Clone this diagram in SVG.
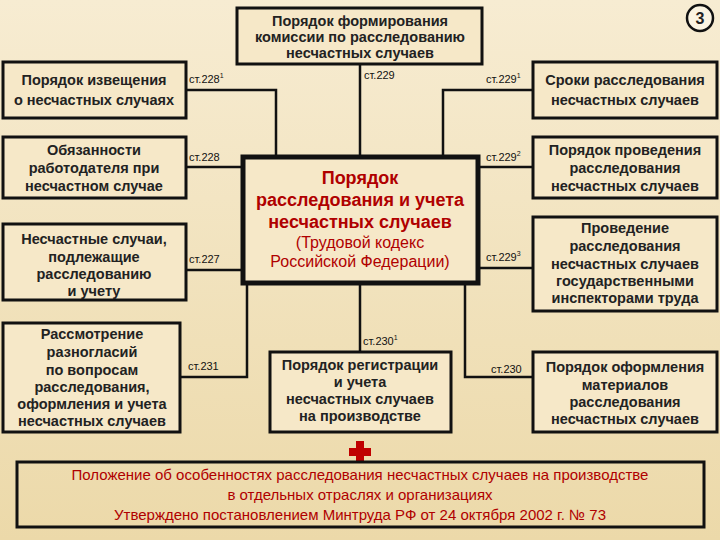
<svg xmlns="http://www.w3.org/2000/svg" width="720" height="540" viewBox="0 0 720 540">
<defs>
<linearGradient id="bg" x1="0" y1="0" x2="0" y2="1"><stop offset="0" stop-color="#f7ecd2"/><stop offset="1" stop-color="#ecd9a9"/></linearGradient>
<style>
.b{fill:#f6e8c8;stroke:#111;stroke-width:3}
.t{font-family:"Liberation Sans",Arial,sans-serif;font-weight:bold;font-size:14.5px;fill:#222;text-anchor:middle}
.m{font-family:"Liberation Sans",Arial,sans-serif;font-weight:bold;fill:#b00000;text-anchor:middle}
.l{font-family:"Liberation Sans",Arial,sans-serif;font-size:11px;fill:#111}
.c{fill:none;stroke:#111;stroke-width:2.5}
.r{font-family:"Liberation Sans",Arial,sans-serif;font-size:15px;fill:#b00000;text-anchor:middle}
</style>
</defs>
<rect width="720" height="540" fill="url(#bg)"/>
<g id="connectors">
<path class="c" d="M186 90H276V155"/>
<path class="c" d="M186 167H241"/>
<path class="c" d="M186 270H241"/>
<path class="c" d="M180 377H247V285"/>
<path class="c" d="M360 64V155"/>
<path class="c" d="M443 155V90H533"/>
<path class="c" d="M480 167H533"/>
<path class="c" d="M480 268H533"/>
<path class="c" d="M465 285V377H533"/>
<path class="c" d="M360 285V352"/>
<text class="l" x="189" y="83">ст.228<tspan font-size="7" dy="-5">1</tspan></text>
<text class="l" x="189" y="161">ст.228</text>
<text class="l" x="189" y="263">ст.227</text>
<text class="l" x="188" y="370">ст.231</text>
<text class="l" x="364" y="79">ст.229</text>
<text class="l" x="486" y="83">ст.229<tspan font-size="7" dy="-5">1</tspan></text>
<text class="l" x="486" y="161">ст.229<tspan font-size="7" dy="-5">2</tspan></text>
<text class="l" x="486" y="261">ст.229<tspan font-size="7" dy="-5">3</tspan></text>
<text class="l" x="491" y="373">ст.230</text>
<text class="l" x="363" y="345">ст.230<tspan font-size="7" dy="-5">1</tspan></text>
</g>
<g id="num"><circle cx="700" cy="18" r="13" fill="#fbf4e2" stroke="#111" stroke-width="2.5"/><text class="t" x="700" y="24" style="font-size:16px">3</text></g>
<g id="top"><rect class="b" x="237" y="8" width="245" height="56"/>
<text class="t" x="360" y="26">Порядок формирования</text><text class="t" x="360" y="42">комиссии по расследованию</text><text class="t" x="360" y="58">несчастных случаев</text></g>
<g id="l1"><rect class="b" x="3" y="62" width="183" height="56"/>
<text class="t" x="94" y="85">Порядок извещения</text><text class="t" x="94" y="105">о несчастных случаях</text></g>
<g id="l2"><rect class="b" x="3" y="137" width="183" height="61"/>
<text class="t" x="94" y="155">Обязанности</text><text class="t" x="94" y="173">работодателя при</text><text class="t" x="94" y="191">несчастном случае</text></g>
<g id="l3"><rect class="b" x="3" y="224" width="183" height="76"/>
<text class="t" x="94" y="244">Несчастные случаи,</text><text class="t" x="94" y="262">подлежащие</text><text class="t" x="94" y="279">расследованию</text><text class="t" x="94" y="296">и учету</text></g>
<g id="l4"><rect class="b" x="3" y="323" width="177" height="109"/>
<text class="t" x="92" y="339">Рассмотрение</text><text class="t" x="92" y="357">разногласий</text><text class="t" x="92" y="375">по вопросам</text><text class="t" x="92" y="392">расследования,</text><text class="t" x="92" y="409">оформления и учета</text><text class="t" x="92" y="426">несчастных случаев</text></g>
<g id="center"><rect x="243" y="157" width="235" height="126" fill="#f6e8c8" stroke="#111" stroke-width="5"/>
<text class="m" x="360" y="184" style="font-size:18px">Порядок</text>
<text class="m" x="360" y="206" style="font-size:18px">расследования и учета</text>
<text class="m" x="360" y="228" style="font-size:18px">несчастных случаев</text>
<text class="m" x="360" y="248" style="font-size:16px;font-weight:normal">(Трудовой кодекс</text>
<text class="m" x="360" y="267" style="font-size:16px;font-weight:normal">Российской Федерации)</text></g>
<g id="r1"><rect class="b" x="533" y="62" width="184" height="56"/>
<text class="t" x="625" y="85">Сроки расследования</text><text class="t" x="625" y="105">несчастных случаев</text></g>
<g id="r2"><rect class="b" x="533" y="137" width="184" height="61"/>
<text class="t" x="625" y="155">Порядок проведения</text><text class="t" x="625" y="173">расследования</text><text class="t" x="625" y="191">несчастных случаев</text></g>
<g id="r3"><rect class="b" x="533" y="217" width="184" height="94"/>
<text class="t" x="625" y="233">Проведение</text><text class="t" x="625" y="251">расследования</text><text class="t" x="625" y="269">несчастных случаев</text><text class="t" x="625" y="286">государственными</text><text class="t" x="625" y="303">инспекторами труда</text></g>
<g id="r4"><rect class="b" x="533" y="352" width="184" height="80"/>
<text class="t" x="625" y="372">Порядок оформления</text><text class="t" x="625" y="390">материалов</text><text class="t" x="625" y="407">расследования</text><text class="t" x="625" y="424">несчастных случаев</text></g>
<g id="bc"><rect class="b" x="270" y="352" width="181" height="80"/>
<text class="t" x="360" y="370">Порядок регистрации</text><text class="t" x="360" y="387">и учета</text><text class="t" x="360" y="404">несчастных случаев</text><text class="t" x="360" y="421">на производстве</text></g>
<g id="plus"><path d="M356 441h8v7h7v8h-7v7h-8v-7h-7v-8h7z" fill="#c00000"/></g>
<g id="bottom"><rect class="b" x="17" y="462" width="687" height="65" style="fill:none"/>
<text class="r" x="360" y="480">Положение об особенностях расследования несчастных случаев на производстве</text>
<text class="r" x="360" y="500">в отдельных отраслях и организациях</text>
<text class="r" x="360" y="520">Утверждено постановлением Минтруда РФ от 24 октября 2002 г. № 73</text></g>
</svg>
